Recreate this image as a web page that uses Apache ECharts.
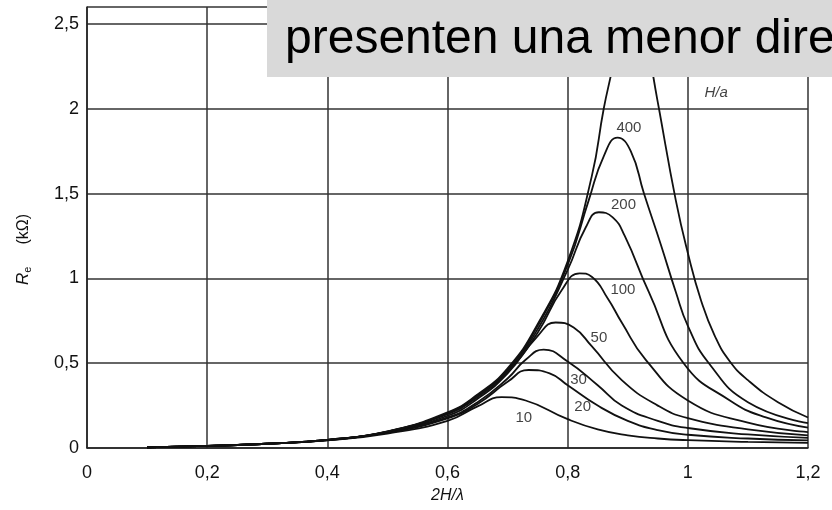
<!DOCTYPE html>
<html><head><meta charset="utf-8">
<script src="https://cdn.jsdelivr.net/npm/echarts@6/dist/echarts.min.js"></script>
<style>html,body{margin:0;padding:0;background:#fff}#c{width:832px;height:510px}</style>
</head><body><div id="c"></div>
<script>
// Curve names (H/a)
const curveNames = ['10', '20', '30', '50', '100', '200', '400', '1000'];

// 2H/lambda samples and Re (kOhm) values per curve
const x10 = [0.1, 0.2, 0.3, 0.4, 0.5, 0.6, 0.65, 0.69, 0.73, 0.8, 0.85, 0.9, 0.95, 1.0, 1.1, 1.2];
const r10 = [0.004, 0.012, 0.025, 0.045, 0.085, 0.16, 0.245, 0.30, 0.28, 0.17, 0.11, 0.075, 0.056, 0.046, 0.036, 0.03];

const x20 = [0.1, 0.2, 0.3, 0.4, 0.5, 0.6, 0.65, 0.7, 0.735, 0.77, 0.8, 0.85, 0.9, 0.95, 1.0, 1.1, 1.2];
const r20 = [0.004, 0.012, 0.025, 0.046, 0.09, 0.175, 0.26, 0.39, 0.46, 0.44, 0.37, 0.25, 0.16, 0.105, 0.078, 0.056, 0.045];

const x30 = [0.1, 0.2, 0.3, 0.4, 0.5, 0.6, 0.65, 0.7, 0.73, 0.76, 0.8, 0.85, 0.89, 0.95, 1.0, 1.1, 1.2];
const r30 = [0.004, 0.012, 0.025, 0.047, 0.092, 0.18, 0.27, 0.41, 0.52, 0.58, 0.51, 0.37, 0.25, 0.16, 0.118, 0.08, 0.06];

const x50 = [0.1, 0.2, 0.3, 0.4, 0.5, 0.6, 0.65, 0.7, 0.75, 0.78, 0.81, 0.84, 0.89, 0.95, 1.0, 1.1, 1.2];
const r50 = [0.004, 0.012, 0.025, 0.047, 0.093, 0.19, 0.29, 0.44, 0.66, 0.74, 0.71, 0.60, 0.40, 0.25, 0.176, 0.11, 0.075];

const x100 = [0.1, 0.2, 0.3, 0.4, 0.5, 0.6, 0.65, 0.7, 0.75, 0.79, 0.82, 0.84, 0.867, 0.89, 0.93, 1.0, 1.1, 1.2];
const r100 = [0.004, 0.012, 0.025, 0.048, 0.095, 0.20, 0.30, 0.45, 0.68, 0.93, 1.03, 1.01, 0.88, 0.74, 0.52, 0.28, 0.15, 0.094];

const x200 = [0.1, 0.2, 0.3, 0.4, 0.5, 0.6, 0.65, 0.7, 0.75, 0.8, 0.83, 0.852, 0.875, 0.895, 0.935, 0.993, 1.07, 1.13, 1.2];
const r200 = [0.004, 0.012, 0.025, 0.048, 0.096, 0.205, 0.31, 0.46, 0.70, 1.05, 1.30, 1.39, 1.36, 1.25, 0.92, 0.50, 0.28, 0.18, 0.12];

const x400 = [0.1, 0.2, 0.3, 0.4, 0.5, 0.6, 0.65, 0.7, 0.75, 0.8, 0.835, 0.86, 0.883, 0.905, 0.927, 0.955, 0.98, 1.0, 1.035, 1.1, 1.2];
const r400 = [0.004, 0.012, 0.025, 0.048, 0.097, 0.205, 0.31, 0.46, 0.72, 1.08, 1.46, 1.72, 1.83, 1.75, 1.50, 1.20, 0.92, 0.72, 0.50, 0.27, 0.147];

const x1000 = [0.1, 0.2, 0.3, 0.4, 0.5, 0.6, 0.65, 0.7, 0.75, 0.8, 0.84, 0.86, 0.875, 0.91, 0.943, 0.952, 0.98, 1.0, 1.022, 1.045, 1.07, 1.1, 1.15, 1.2];
const r1000 = [0.004, 0.012, 0.025, 0.048, 0.098, 0.21, 0.315, 0.47, 0.73, 1.10, 1.60, 2.00, 2.25, 2.90, 2.18, 2.00, 1.46, 1.15, 0.87, 0.66, 0.51, 0.40, 0.27, 0.18];

// Curve label positions (data units) and texts
const labText = ['10', '20', '30', '50', '100', '200', '400'];
const labX = [0.727, 0.825, 0.818, 0.852, 0.892, 0.893, 0.902];
const labY = [0.176, 0.241, 0.40, 0.647, 0.93, 1.435, 1.89];
const headText = 'H/a';
const headX = 1.047, headY = 2.094;

// Axis ranges
const xMin = 0, xMax = 1.2, xStep = 0.2;
const yMin = 0, yMax = 2.6, yStep = 0.5;

const curvesX = [x10, x20, x30, x50, x100, x200, x400, x1000];
const curvesR = [r10, r20, r30, r50, r100, r200, r400, r1000];

const fmt = v => String(Math.round(v * 100) / 100).replace('.', ',');
const font = '"Liberation Sans", Arial, sans-serif';

const series = curveNames.map((n, i) => ({
  name: n, type: 'line', showSymbol: false, symbol: 'none',
  smooth: 0.5, clip: true,
  lineStyle: { color: '#111', width: 1.8 },
  data: curvesX[i].map((x, j) => [x, curvesR[i][j]]),
  z: 3
}));
series.push({
  type: 'scatter', symbolSize: 0, z: 4,
  data: labX.map((x, i) => [x, labY[i], labText[i]]),
  label: { show: true, position: 'inside', formatter: p => p.data[2],
    fontFamily: font, fontSize: 15, color: '#111' }
});
series.push({
  type: 'scatter', symbolSize: 0, z: 4,
  data: [[headX, headY, headText]],
  label: { show: true, position: 'inside', formatter: p => p.data[2],
    fontFamily: font, fontSize: 15, fontStyle: 'italic', color: '#111' }
});

const chart = echarts.init(document.getElementById('c'), null, { renderer: 'canvas' });
chart.setOption({
  animation: false,
  backgroundColor: '#fff',
  grid: { left: 87, right: 24, top: 7, bottom: 62, containLabel: false },
  xAxis: {
    type: 'value', min: xMin, max: xMax, interval: xStep,
    name: '2H/λ', nameLocation: 'middle', nameGap: 40,
    nameTextStyle: { fontFamily: font, fontSize: 16, fontStyle: 'italic', color: '#111' },
    axisLine: { show: true, lineStyle: { color: '#222', width: 1.5 } },
    axisTick: { show: false },
    axisLabel: { formatter: fmt, margin: 16, fontFamily: font, fontSize: 18, color: '#111' },
    splitLine: { show: true, lineStyle: { color: '#333', width: 1.5 } }
  },
  yAxis: {
    type: 'value', min: yMin, max: yMax, interval: yStep,
    name: '{i|R}{s|e}{n|(kΩ)}', nameLocation: 'middle', nameGap: 54,
    nameTextStyle: { fontFamily: font, color: '#111',
      rich: {
        i: { fontFamily: font, fontSize: 17, fontStyle: 'italic', color: '#111' },
        s: { fontFamily: font, fontSize: 11, color: '#111', verticalAlign: 'bottom', padding: [8, 0, 0, 0] },
        n: { fontFamily: font, fontSize: 16, color: '#111', padding: [0, 44, 0, 22] }
      } },
    axisLine: { show: true, lineStyle: { color: '#222', width: 1.5 } },
    axisTick: { show: false },
    axisLabel: { formatter: v => (Math.abs(v / yStep - Math.round(v / yStep)) < 1e-6 ? fmt(v) : ''),
      margin: 8, fontFamily: font, fontSize: 18, color: '#111' },
    splitLine: { show: true, lineStyle: { color: '#333', width: 1.5 } }
  },
  series: series,
  graphic: [
    { type: 'rect', left: 267, top: 0, z: 100, shape: { width: 565, height: 77 }, style: { fill: '#d9d9d9' } },
    { type: 'text', x: 285, y: 16, z: 101,
      style: { text: 'presenten una menor dire', fontFamily: font, fontSize: 48, fill: '#000', verticalAlign: 'top' } }
  ]
});
</script>
</body></html>
